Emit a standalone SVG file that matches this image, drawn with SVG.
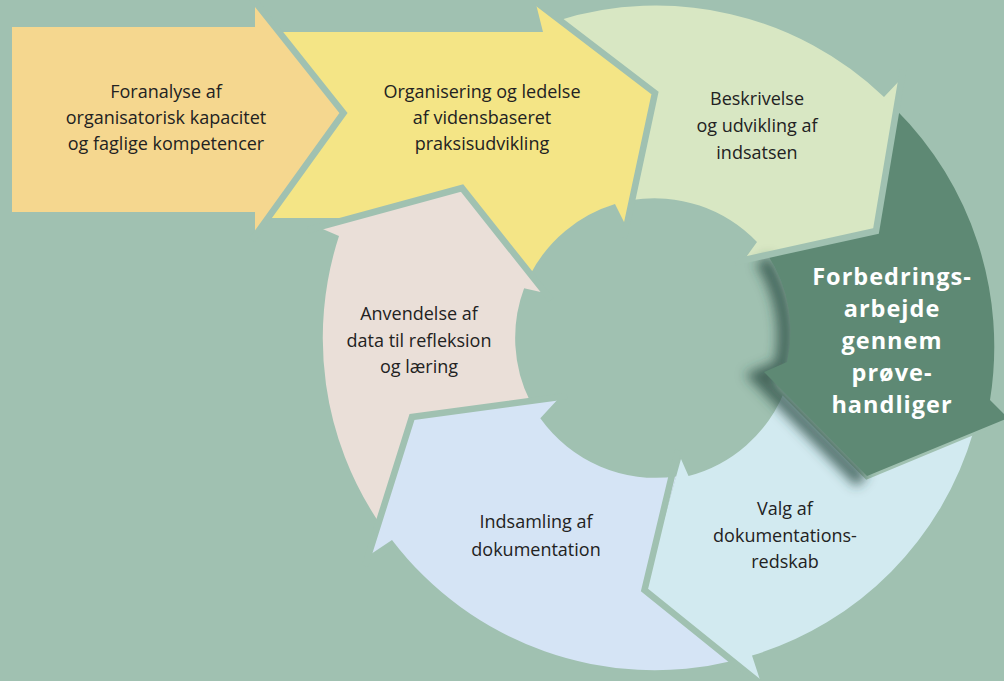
<svg xmlns="http://www.w3.org/2000/svg" width="1004" height="681" viewBox="0 0 1004 681">
  <defs>
    <style>
      .lbl{font-family:"Open Sans","Noto Sans","Liberation Sans",sans-serif;font-size:18px;fill:#222;text-anchor:middle}
      .hl{font-family:"Open Sans","Noto Sans","Liberation Sans",sans-serif;font-size:23.5px;font-weight:700;fill:#fff;text-anchor:middle;letter-spacing:1px}
      .gap{fill:none;stroke:#a0c1b1;stroke-width:6.5;stroke-linejoin:miter;stroke-miterlimit:12;stroke-linecap:butt}
    </style>
    <filter id="soft" x="-50%" y="-50%" width="200%" height="200%">
      <feGaussianBlur stdDeviation="6"/>
    </filter>
  </defs>

  <rect width="1004" height="681" fill="#a0c1b1"/>

  <!-- straight lead-in arrow -->
  <g id="foranalyse">
    <path d="M12 27 L255 27 L255 2 L343.5 113 L255 236 L255 212 L12 212 Z" fill="#f5d78f"/>
    <text class="lbl" x="166" y="98">Foranalyse af</text>
    <text class="lbl" x="166" y="124">organisatorisk kapacitet</text>
    <text class="lbl" x="166" y="150">og faglige kompetencer</text>
  </g>

  <!-- straight arrow that joins the cycle -->
  <g id="organisering">
    <path d="M279.2 32 L543 32 L535.5 2 L655 93 L626 226 L615 204 A142 142 0 0 0 530.3 274.4 L462 188 L354.5 218 L269 218 L343.5 113 Z" fill="#f4e586"/>
    <text class="lbl" x="482" y="98">Organisering og ledelse</text>
    <text class="lbl" x="482" y="124">af vidensbaseret</text>
    <text class="lbl" x="482" y="150">praksisudvikling</text>
  </g>

  <!-- cycle segments, clockwise -->
  <g id="beskrivelse">
    <path d="M556.7 20.9 A330 330 0 0 1 884 97 L901 79 L876 231 L744 260 L757 242 A142 142 0 0 0 631.7 200 L655 93 Z" fill="#d8e7c3"/>
    <text class="lbl" x="757" y="105">Beskrivelse</text>
    <text class="lbl" x="757" y="132">og udvikling af</text>
    <text class="lbl" x="757" y="159">indsatsen</text>
  </g>

  <g id="valg">
    <path d="M973.5 431.5 A330 330 0 0 1 752 655.5 L761 683 L644.5 590 L681 459 L688.5 476 A142 142 0 0 0 784.1 392.3 L867 476 Z" fill="#d2eaf0"/>
    <text class="lbl" x="785" y="515">Valg af</text>
    <text class="lbl" x="785" y="542">dokumentations-</text>
    <text class="lbl" x="785" y="568">redskab</text>
  </g>

  <g id="indsamling">
    <path d="M733.2 660.7 A330 330 0 0 1 392 540 L368 556 L412 417 L559 398 L540.3 418.3 A142 142 0 0 0 676.2 476.4 L644.5 590 Z" fill="#d5e4f5"/>
    <text class="lbl" x="536" y="528">Indsamling af</text>
    <text class="lbl" x="536" y="556">dokumentation</text>
  </g>

  <g id="anvendelse">
    <path d="M379.6 523.4 A330 330 0 0 1 339 236 L318 227 L462 188 L545 293 L524.1 288.3 A142 142 0 0 0 530.3 401.7 L412 417 Z" fill="#eadfd8"/>
    <text class="lbl" x="419" y="320">Anvendelse af</text>
    <text class="lbl" x="419" y="347">data til refleksion</text>
    <text class="lbl" x="419" y="373">og læring</text>
  </g>

  <!-- separators along each arrowhead -->
  <g id="connectors">
    <polyline class="gap" points="252,-2 343.5,113 252,240"/>
    <polyline class="gap" points="532,-1 655,93 624,238"/>
    <polyline class="gap" points="1016,414 867,476 758,366"/>
    <polyline class="gap" points="766,688 644.5,590 678,450"/>
    <polyline class="gap" points="365,566 412,417 567,396"/>
    <polyline class="gap" points="308,230 462,188 551,300"/>
  </g>

  <!-- raised segment with its cast shadow -->
  <g id="forbedringsarbejde">
    <path d="M767.6 254.8 A139 139 0 0 1 787 362 L764 372 L867 476" fill="none" stroke="#2a4a40" stroke-width="16" stroke-opacity="0.75" filter="url(#soft)" transform="translate(-5 5)"/>
    <path d="M895.6 109.2 A335 335 0 0 1 990 400 L1008 418 L867 476 L764 372 L787 362 A139 139 0 0 0 767.6 254.8 L876 231 Z" fill="#5e8974"/>
    <polyline class="gap" points="903,70 876,231 735,262"/>
    <text class="hl" x="892" y="285">Forbedrings-</text>
    <text class="hl" x="892" y="317">arbejde</text>
    <text class="hl" x="892" y="349">gennem</text>
    <text class="hl" x="892" y="381">prøve-</text>
    <text class="hl" x="892" y="413">handliger</text>
  </g>
</svg>
